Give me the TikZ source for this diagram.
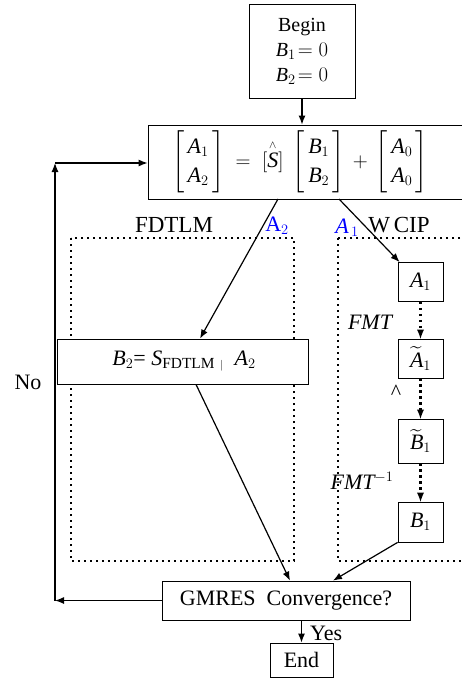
\documentclass[tikz,border=0pt]{standalone}
\usepackage{amsmath}
\usepackage{fontspec}
\setmainfont{Liberation Serif}
\usetikzlibrary{arrows.meta}
\newcommand{\itl}[1]{\mbox{\itshape #1}}
\begin{document}
\begin{tikzpicture}[x=1pt,y=-1pt,
  box/.style={draw, line width=0.8pt, inner sep=0pt},
  arr/.style={line width=1.2pt, -{Latex[length=9pt,width=7pt]}},
  darr/.style={line width=2.4pt, dash pattern=on 2.4pt off 3.6pt, -{Latex[length=9pt,width=7pt,line width=0pt]}},
  dbox/.style={line width=1.7pt, dash pattern=on 1.7pt off 4.3pt},
  lab/.style={inner sep=0pt},
  every node/.style={font=\fontsize{22}{26}\selectfont}]
\useasboundingbox (0,0) rectangle (462,679);
\clip (0,0) rectangle (462,679);

% dotted regions
\draw[dbox] (71,238) rectangle (294,561);
\draw[dbox] (338,238) rectangle (490,561);

% boxes
\node[box, minimum width=106pt, minimum height=94pt, align=center,
      font=\fontsize{20}{25}\selectfont] (begin) at (302,51)
  {Begin\\$\itl{B}_1\!= 0$\\$\itl{B}_2\!= 0$};
\node[box, fill=white, minimum width=340pt, minimum height=74pt] (eq) at (318,162) {};
\node[lab] (eqt) at (300,162)
  {$\renewcommand{\arraystretch}{1.1}\left[\begin{array}{@{\,}c@{\,}}\itl{A}_1\\ \itl{A}_2\end{array}\right]
   \;=\; [\overset{\scriptscriptstyle\wedge}{\itl{S}}]\;
   \left[\begin{array}{@{\,}c@{\,}}\itl{B}_1\\ \itl{B}_2\end{array}\right]\,+\,
   \left[\begin{array}{@{\,}c@{\,}}\itl{A}_0\\ \itl{A}_0\end{array}\right]$};

\node[box, fill=white, minimum width=251pt, minimum height=45pt] (b2) at (182.5,361.5) {};
\node[lab] (b2t) at (184,361) {$\itl{B}_2$= $\itl{S}_{\text{FDTLM}\ {\scriptscriptstyle|}}$\ \ $\itl{A}_2$};

\node[box, minimum width=45pt, minimum height=39pt] (a1) at (420.5,282) {$\itl{A}_1$};
\node[box, minimum width=45pt, minimum height=39pt] (ta1) at (420.5,358.5) {$\widetilde{\itl{A}}_1$};
\node[box, minimum width=45pt, minimum height=44pt] (tb1) at (420.5,441) {$\widetilde{\itl{B}}_1$};
\node[box, minimum width=45pt, minimum height=40pt] (b1) at (420.5,522) {$\itl{B}_1$};

\node[box, minimum width=248pt, minimum height=39pt] (gm) at (286,600.5) {GMRES~~Convergence?};
\node[box, minimum width=63pt, minimum height=34pt] (end) at (301.5,660) {End};

% labels
\node[lab, font=\fontsize{23}{26}\selectfont] (fd) at (174,225) {FDTLM};
\node[lab, font=\fontsize{23}{26}\selectfont] (wc) at (399,225) {W\,CIP};
\node[lab, text=blue] (la2) at (277,226) {A$_2$};
\node[lab, text=blue] (la1) at (347,228) {$\itl{A}_{\,1}$};
\node[lab] (fmt) at (370,322) {\itshape FMT};
\node[lab] (hat) at (396,392) {\^{}};
\node[lab] (fmti) at (362,481) {\itshape FMT$^{-1}$};
\node[lab] (no) at (28,382) {No};
\node[lab, anchor=west] (yes) at (310,633) {Yes};

% connectors
\coordinate (eqA2) at (278,199);
\coordinate (eqA1) at (339,199);
\coordinate (lb) at (55,600.5);
\coordinate (lt) at (55,163);
\draw[arr] (begin.south) -- (begin.south |- eq.north);
\draw[arr] (eqA2) -- ([xshift=17.5pt]b2.north);
\draw[arr] (eqA1) -- ([xshift=2pt]a1.north west);
\draw[darr] (a1.south) -- (ta1.north);
\draw[darr] (ta1.south) -- (tb1.north);
\draw[darr] (tb1.south) -- (b1.north);
\draw[arr] ([xshift=13.5pt]b2.south) -- ([xshift=4pt]gm.north);
\draw[arr] (b1.south west) -- ([xshift=47pt]gm.north);
\draw[arr] (end.north |- gm.south) -- (end.north);
\draw[arr] (gm.west) -- (lb);
\draw[arr] (lb) -- (lt);
\draw[arr] (lt) -- (lt -| eq.west);
\end{tikzpicture}
\end{document}
